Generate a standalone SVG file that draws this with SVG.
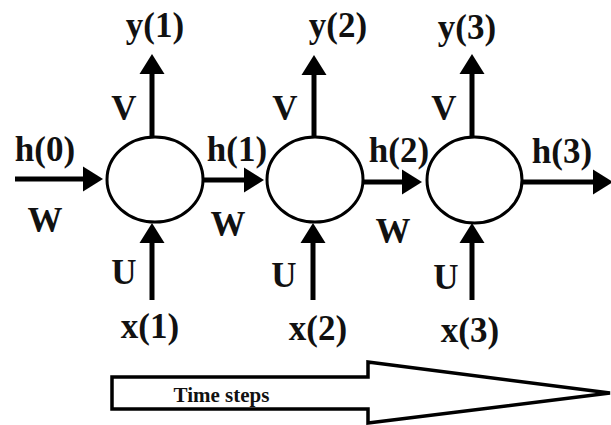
<svg xmlns="http://www.w3.org/2000/svg" width="611" height="425" viewBox="0 0 611 425">
  <style>
    .lbl { font-family: "Liberation Serif", "Times New Roman", serif; font-weight: bold; font-size: 35px; fill: #111; text-anchor: middle; }
    .small { font-size: 21px; }
    .cell { fill: #fff; stroke: #000; stroke-width: 3; }
    .conn { stroke: #000; stroke-width: 5; fill: none; marker-end: url(#head); }
    .big { fill: #fff; stroke: #000; stroke-width: 3.5; stroke-linejoin: miter; }
  </style>
  <defs>
    <marker id="head" markerUnits="userSpaceOnUse" markerWidth="21" markerHeight="26" refX="0" refY="12.5" orient="auto" overflow="visible">
      <path d="M0,0 L20,12.5 L0,25 Z" fill="#000"/>
    </marker>
  </defs>
  <rect width="611" height="425" fill="#fff"/>

  <g id="connectors">
    <path class="conn" d="M15,179 H83"/>
    <path class="conn" d="M204,180 H244"/>
    <path class="conn" d="M363,182 H402"/>
    <path class="conn" d="M522,182 H593"/>
    <path class="conn" d="M152,137 V74"/>
    <path class="conn" d="M314,137 V75"/>
    <path class="conn" d="M472,137 V74"/>
    <path class="conn" d="M152,300 V243"/>
    <path class="conn" d="M313,300 V243"/>
    <path class="conn" d="M472,300 V243"/>
  </g>

  <g id="cell1"><ellipse class="cell" cx="155" cy="179.5" rx="48" ry="42.5"/></g>
  <g id="cell2"><ellipse class="cell" cx="315" cy="179.5" rx="48" ry="42.5"/></g>
  <g id="cell3"><ellipse class="cell" cx="474.5" cy="180" rx="47.5" ry="43"/></g>

  <g id="labels-y">
    <text class="lbl" x="155" y="37">y(1)</text>
    <text class="lbl" x="338" y="37">y(2)</text>
    <text class="lbl" x="467" y="39">y(3)</text>
  </g>
  <g id="labels-V">
    <text class="lbl" x="124" y="120">V</text>
    <text class="lbl" x="285" y="120">V</text>
    <text class="lbl" x="444" y="120">V</text>
  </g>
  <g id="labels-h">
    <text class="lbl" x="45" y="161">h(0)</text>
    <text class="lbl" x="237" y="161">h(1)</text>
    <text class="lbl" x="399" y="162">h(2)</text>
    <text class="lbl" x="562" y="163">h(3)</text>
  </g>
  <g id="labels-W">
    <text class="lbl" x="45" y="232">W</text>
    <text class="lbl" x="228" y="236">W</text>
    <text class="lbl" x="393" y="243">W</text>
  </g>
  <g id="labels-U">
    <text class="lbl" x="124" y="284">U</text>
    <text class="lbl" x="284" y="287">U</text>
    <text class="lbl" x="446" y="289">U</text>
  </g>
  <g id="labels-x">
    <text class="lbl" x="150" y="338">x(1)</text>
    <text class="lbl" x="318" y="340">x(2)</text>
    <text class="lbl" x="470" y="342">x(3)</text>
  </g>

  <g id="time-steps">
    <polygon class="big" points="112,377 368,377 368,362 610,393 368,423 368,409 112,409"/>
    <text class="lbl small" x="221.5" y="402">Time steps</text>
  </g>
</svg>
